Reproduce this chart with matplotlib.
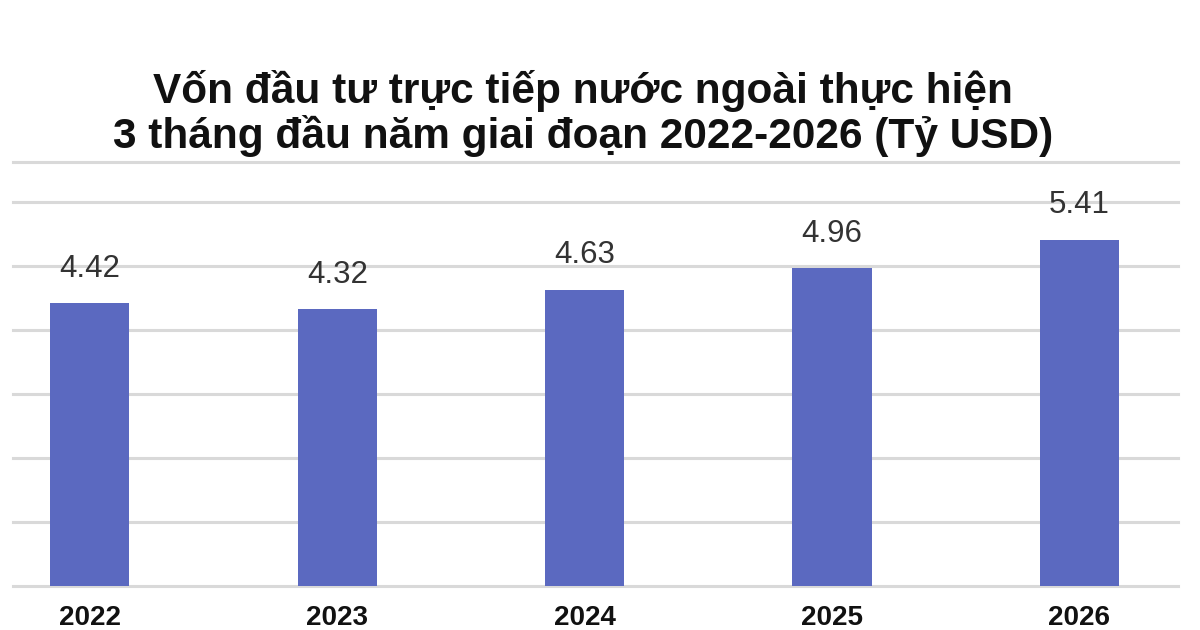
import matplotlib.pyplot as plt

years = ['2022', '2023', '2024', '2025', '2026']
values = [4.42, 4.32, 4.63, 4.96, 5.41]

title_line1 = 'Vốn đầu tư trực tiếp nước ngoài thực hiện'
title_line2 = '3 tháng đầu năm giai đoạn 2022-2026 (Tỷ USD)'

bar_color = '#5b69c0'
grid_color = '#d9d9d9'

plt.rcParams['font.family'] = ['Liberation Sans', 'DejaVu Sans']

fig = plt.figure(figsize=(12, 6.3), dpi=100)
# vung ve: tu y=586 (0) den y=162 (khung tren)
ax = fig.add_axes([0.011, 0.070, 0.971, 0.673])

x = range(len(years))
bars = ax.bar(x, values, width=0.32, color=bar_color, zorder=3)

ax.set_ylim(0, 6.625)
ax.set_xlim(-0.31, 4.40)
ax.set_yticks(range(0, 7))
ax.yaxis.grid(True, color=grid_color, linewidth=2.2, zorder=0)
for gl in ax.get_ygridlines():
    gl.set_clip_on(False)
ax.tick_params(axis='y', left=False, labelleft=False)
ax.tick_params(axis='x', length=0, pad=14, labelsize=20)
ax.set_xticks(list(x))
ax.set_xticklabels(years, fontweight='bold', color='#111111')
for name, s in ax.spines.items():
    if name == 'top':
        s.set_color(grid_color)
        s.set_linewidth(2.2)
    else:
        s.set_visible(False)

for rect, v in zip(bars, values):
    ax.annotate(f'{v:.2f}', (rect.get_x() + rect.get_width() / 2, rect.get_height()),
                xytext=(0, 14), textcoords='offset points',
                ha='center', va='bottom', fontsize=22.5, color='#333333')

fig.text(0.486, 1 - 103 / 630, title_line1, ha='center', va='baseline',
         fontsize=30.5, fontweight='bold', color='#111111')
fig.text(0.486, 1 - 148 / 630, title_line2, ha='center', va='baseline',
         fontsize=30.5, fontweight='bold', color='#111111')

fig.savefig('out.png', dpi=100, facecolor='white')
